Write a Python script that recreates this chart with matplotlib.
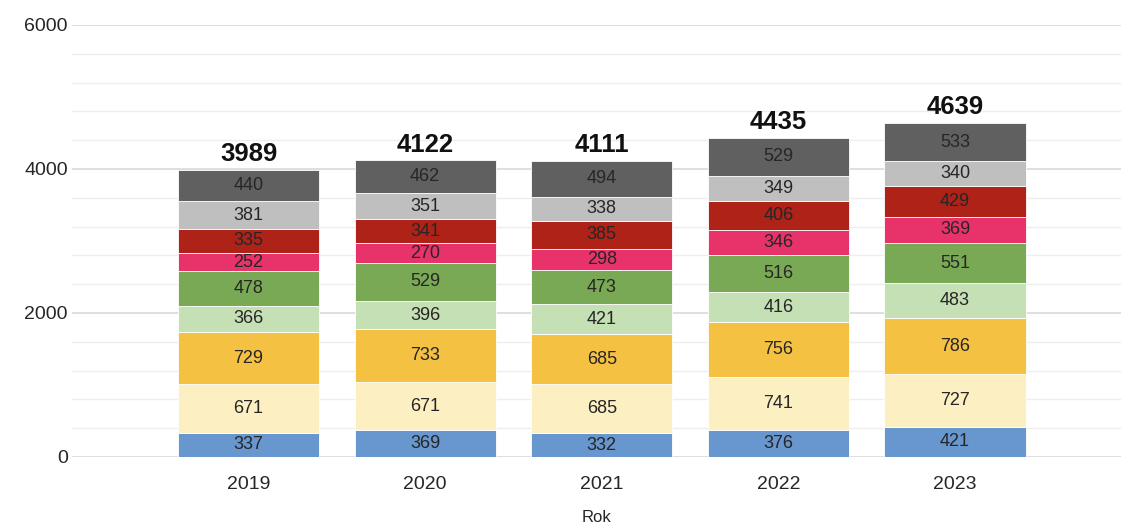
import matplotlib
matplotlib.use("Agg")
import matplotlib.pyplot as plt
from matplotlib.ticker import MultipleLocator
import numpy as np

years = ["2019", "2020", "2021", "2022", "2023"]
s1 = [337, 369, 332, 376, 421]
s2 = [671, 671, 685, 741, 727]
s3 = [729, 733, 685, 756, 786]
s4 = [366, 396, 421, 416, 483]
s5 = [478, 529, 473, 516, 551]
s6 = [252, 270, 298, 346, 369]
s7 = [335, 341, 385, 406, 429]
s8 = [381, 351, 338, 349, 340]
s9 = [440, 462, 494, 529, 533]
series = [s1, s2, s3, s4, s5, s6, s7, s8, s9]
colors = ["#6897cf", "#fcefc2", "#f4c143", "#c5e0b4", "#7aa956",
          "#e8336a", "#ae2217", "#bfbfbf", "#606060"]

plt.rcParams['font.family'] = ['Liberation Sans', 'DejaVu Sans']

fig = plt.figure(figsize=(11.21, 5.28), dpi=100)
ax = fig.add_axes([0.0642, 0.1345, 0.9358, 0.8182])

x = np.arange(len(years))
bottom = np.zeros(len(years))
for vals, c in zip(series, colors):
    bars = ax.bar(x, vals, 0.8, bottom=bottom, color=c, edgecolor="white",
                  linewidth=0.6, zorder=3)
    ax.bar_label(bars, labels=[str(v) for v in vals], label_type="center",
                 fontsize=13, color="#262626")
    bottom += np.array(vals)

for xi, tot in zip(x, bottom):
    ax.text(xi, tot + 50, f"{int(tot)}", ha="center", va="bottom",
            fontsize=18.5, fontweight="bold", color="#111111")

ax.set_xlim(-1.0, 4.94)
ax.set_ylim(0, 6000)
ax.yaxis.set_major_locator(MultipleLocator(2000))
ax.yaxis.set_minor_locator(MultipleLocator(400))
ax.grid(which="major", axis="y", color="#d9d9d9", linewidth=1.2, zorder=0)
ax.grid(which="minor", axis="y", color="#eeeeee", linewidth=1.0, zorder=0)
ax.set_axisbelow(True)
for s in ax.spines.values():
    s.set_visible(False)
ax.set_xticks(x)
ax.set_xticklabels(years)
ax.tick_params(axis="both", which="both", length=0, labelsize=14, colors="#262626")
ax.tick_params(axis="x", pad=14)
ax.tick_params(axis="y", pad=3)
ax.set_xlabel("Rok", fontsize=12, color="#262626", labelpad=12)

fig.savefig("out.png", dpi=100)
